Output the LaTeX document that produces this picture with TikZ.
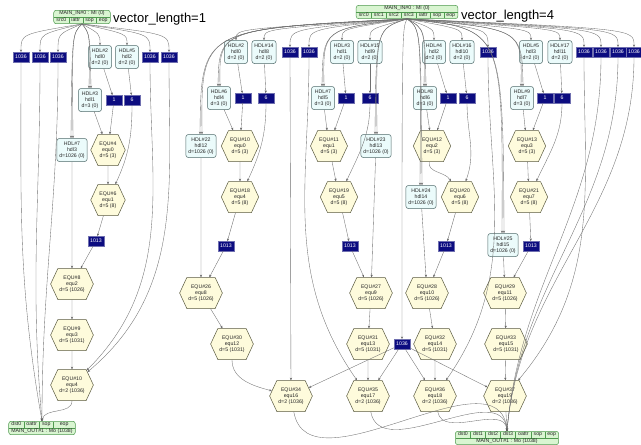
\documentclass[tikz,border=0pt]{standalone}
\usepackage{fontspec}
\setmainfont{Liberation Sans}
\usepackage{colortbl}
\usetikzlibrary{positioning,shapes.symbols,arrows.meta}
\definecolor{hdlfill}{HTML}{EBFBFB}
\definecolor{hdlline}{HTML}{4F6A6A}
\definecolor{equfill}{HTML}{FEFBDC}
\definecolor{equline}{HTML}{5A5A40}
\definecolor{cstfill}{HTML}{0C0C80}
\definecolor{cstline}{HTML}{7070B0}
\definecolor{recfill}{HTML}{D9F5D1}
\definecolor{recline}{HTML}{4F9A4F}
\definecolor{wirecol}{HTML}{707070}
\setlength{\tabcolsep}{2.4pt}
\arrayrulecolor{recline}

\begin{document}
\begin{tikzpicture}[x=1pt,y=1pt,
every node/.style={font=\fontsize{5.2}{6.2}\selectfont, text=black!85, on grid},
hdl/.style={draw=hdlline, fill=hdlfill, line width=0.5pt, rounded corners=2.5pt, align=center, inner xsep=2.5pt, inner ysep=1pt, minimum width=23pt, minimum height=23pt},
equ/.style={signal, signal to=east and west, signal pointer angle=130, draw=equline, fill=equfill, line width=0.5pt, align=center, inner xsep=1.5pt, inner ysep=0.5pt, minimum height=31pt},
cst/.style={draw=cstline, fill=cstfill, text=white, line width=0.4pt, minimum width=15.5pt, minimum height=9.5pt, inner sep=0.5pt},
rec/.style={draw=recline, fill=recfill, line width=0.5pt, rounded corners=2.5pt, inner sep=0.3pt},
title/.style={font=\fontsize{13}{15}\selectfont, text=black, anchor=west, inner sep=0pt},
wire/.style={draw=wirecol, line width=0.35pt, -{Stealth[length=2.6pt,width=2.2pt]}}]
\path[use as bounding box, fill=white] (0,0) rectangle (641,-445);

\node[rec] (lin) at (82,-17) {\begin{tabular}{c|c|c|c}\multicolumn{4}{c}{MAIN\_IN\#0 : MI (0)}\\\hline src0&iattr&sop&eop\end{tabular}};
\node[title] (lt) at (113,-19) {vector\_length=1};
\node[cst] (lc1) at (21,-57) {1036};
\node[cst, right=19pt of lc1] (lc2) {1036};
\node[cst, right=18pt of lc2] (lc3) {1036};
\node[hdl, right=42pt of lc3] (lh2) {HDL\#2\\hdl0\\d=2 (0)};
\node[hdl, right=27pt of lh2] (lh5) {HDL\#5\\hdl2\\d=2 (0)};
\node[cst, right=23pt of lh5] (lc4) {1036};
\node[cst, right=19pt of lc4] (lc5) {1036};
\node[hdl, below left=43pt and 10pt of lh2] (lh3) {HDL\#3\\hdl1\\d=3 (0)};
\node[cst, right=24pt of lh3] (lk1) {1};
\node[cst, right=18pt of lk1] (lk6) {6};
\node[hdl, below left=50pt and 18pt of lh3] (lh7) {HDL\#7\\hdl3\\d=1026 (0)};
\node[equ, right=36pt of lh7] (le4) {EQU\#4\\equ0\\d=5 (3)};
\node[equ, below=50pt of le4] (le6) {EQU\#6\\equ1\\d=5 (8)};
\node[cst, below left=41pt and 12pt of le6] (lk13) {1013};
\node[equ, below=134pt of lh7] (le8) {EQU\#8\\equ2\\d=5 (1026)};
\node[equ, below=51pt of le8] (le9) {EQU\#9\\equ3\\d=5 (1031)};
\node[equ, below=50pt of le9] (le10) {EQU\#10\\equ4\\d=2 (1036)};
\node[rec, below left=43pt and 30pt of le10] (lout) {\begin{tabular}{c|c|c|c}dst0&oattr&sop&eop\\\hline\multicolumn{4}{c}{MAIN\_OUT\#1 : Mo (1038)}\end{tabular}};

\node[rec] (rin) at (407,-12) {\begin{tabular}{c|c|c|c|c|c|c}\multicolumn{7}{c}{MAIN\_IN\#0 : MI (0)}\\\hline src0&src1&src2&src3&iattr&sop&eop\end{tabular}};
\node[title] (rt) at (461,-16) {vector\_length=4};
\node[hdl] (rh2) at (236,-52) {HDL\#2\\hdl0\\d=2 (0)};
\node[hdl, right=28pt of rh2] (rh14) {HDL\#14\\hdl8\\d=2 (0)};
\node[cst, right=26pt of rh14] (rc1) {1036};
\node[cst, right=19pt of rc1] (rc2) {1036};
\node[hdl, right=33pt of rc2] (rh3) {HDL\#3\\hdl1\\d=2 (0)};
\node[hdl, right=28pt of rh3] (rh15) {HDL\#15\\hdl9\\d=2 (0)};
\node[hdl, right=64pt of rh15] (rh4) {HDL\#4\\hdl2\\d=2 (0)};
\node[hdl, right=28pt of rh4] (rh16) {HDL\#16\\hdl10\\d=2 (0)};
\node[cst, right=26pt of rh16] (rc3) {1036};
\node[hdl, right=43pt of rc3] (rh5) {HDL\#5\\hdl3\\d=2 (0)};
\node[hdl, right=29pt of rh5] (rh17) {HDL\#17\\hdl11\\d=2 (0)};
\node[cst, right=24pt of rh17] (rc4) {1036};
\node[cst, right=17pt of rc4] (rc5) {1036};
\node[cst, right=17pt of rc5] (rc6) {1036};
\node[cst, right=16pt of rc6] (rc7) {1036};

\node[hdl, below left=46pt and 17pt of rh2] (rh6) {HDL\#6\\hdl4\\d=3 (0)};
\node[cst, right=24pt of rh6] (rk1a) {1};
\node[cst, right=23pt of rk1a] (rk6a) {6};
\node[hdl, below left=46pt and 19pt of rh3] (rh7) {HDL\#7\\hdl5\\d=3 (0)};
\node[cst, right=23pt of rh7] (rk1b) {1};
\node[cst, right=24pt of rk1b] (rk6b) {6};
\node[hdl, below left=46pt and 9pt of rh4] (rh8) {HDL\#8\\hdl6\\d=3 (0)};
\node[cst, right=23pt of rh8] (rk1c) {1};
\node[cst, right=19pt of rk1c] (rk6c) {6};
\node[hdl, below left=46pt and 9pt of rh5] (rh9) {HDL\#9\\hdl7\\d=3 (0)};
\node[cst, right=23pt of rh9] (rk1d) {1};
\node[cst, right=17pt of rk1d] (rk6d) {6};

\node[hdl, below left=48pt and 18pt of rh6] (rh22) {HDL\#22\\hdl12\\d=1026 (0)};
\node[equ, below right=48pt and 21pt of rh6] (re10) {EQU\#10\\equ0\\d=5 (3)};
\node[equ, below right=48pt and 6pt of rh7] (re11) {EQU\#11\\equ1\\d=5 (3)};
\node[hdl, right=47pt of re11] (rh23) {HDL\#23\\hdl13\\d=1026 (0)};
\node[equ, below right=48pt and 7pt of rh8] (re12) {EQU\#12\\equ2\\d=5 (3)};
\node[equ, below right=48pt and 5pt of rh9] (re13) {EQU\#13\\equ3\\d=5 (3)};

\node[equ, below=51pt of re10] (re18) {EQU\#18\\equ4\\d=5 (8)};
\node[equ, below right=51pt and 10pt of re11] (re19) {EQU\#19\\equ5\\d=5 (8)};
\node[hdl, below left=51pt and 11pt of re12] (rh24) {HDL\#24\\hdl14\\d=1026 (0)};
\node[equ, below right=51pt and 28pt of re12] (re20) {EQU\#20\\equ6\\d=5 (8)};
\node[equ, below right=51pt and 2pt of re13] (re21) {EQU\#21\\equ7\\d=5 (8)};

\node[cst, below left=49pt and 14pt of re18] (rk13a) {1013};
\node[cst, below right=49pt and 11pt of re19] (rk13b) {1013};
\node[cst, below left=49pt and 14pt of re20] (rk13c) {1013};
\node[hdl, below left=48pt and 26pt of re21] (rh25) {HDL\#25\\hdl15\\d=1026 (0)};
\node[cst, below right=49pt and 2pt of re21] (rk13d) {1013};

\node[equ, below=147pt of rh22] (re26) {EQU\#26\\equ8\\d=5 (1026)};
\node[equ, below left=147pt and 5pt of rh23] (re27) {EQU\#27\\equ9\\d=5 (1026)};
\node[equ, below right=96pt and 6pt of rh24] (re28) {EQU\#28\\equ10\\d=5 (1026)};
\node[equ, below right=48pt and 2pt of rh25] (re29) {EQU\#29\\equ11\\d=5 (1026)};

\node[equ, below right=51pt and 31pt of re26] (re30) {EQU\#30\\equ12\\d=5 (1031)};
\node[equ, below left=51pt and 3pt of re27] (re31) {EQU\#31\\equ13\\d=5 (1031)};
\node[cst, right=34pt of re31] (rc8) {1036};
\node[equ, below right=51pt and 8pt of re28] (re32) {EQU\#32\\equ14\\d=5 (1031)};
\node[equ, below right=51pt and 1pt of re29] (re33) {EQU\#33\\equ15\\d=5 (1031)};

\node[equ, below right=52pt and 59pt of re30] (re34) {EQU\#34\\equ16\\d=2 (1036)};
\node[equ, below=52pt of re31] (re35) {EQU\#35\\equ17\\d=2 (1036)};
\node[equ, below=52pt of re32] (re36) {EQU\#36\\equ18\\d=2 (1036)};
\node[equ, below left=52pt and 1pt of re33] (re37) {EQU\#37\\equ19\\d=2 (1036)};
\node[rec, below right=42pt and 2pt of re37] (rout) {\begin{tabular}{c|c|c|c|c|c|c}dst0&dst1&dst2&dst3&oattr&sop&eop\\\hline\multicolumn{7}{c}{MAIN\_OUT\#1 : Mo (1038)}\end{tabular}};

\coordinate (lfan) at ([yshift=-10pt]lin.south);
\coordinate (rfan) at ([yshift=-10pt]rin.south);
\foreach \t in {lc1,lc2,lc3,lh2,lh5,lc4,lc5}
  \draw[wire] (lin.south) .. controls (lfan -| \t.north) .. (\t.north);
\foreach \t in {lh3,lh7} {
  \draw[wire] (lin.south) .. controls (lfan -| \t.north) .. ([xshift=-1pt]\t.north);
  \draw[wire] (lin.south) .. controls (lfan -| \t.north) .. ([xshift=1pt]\t.north);
}
\foreach \t in {rh2,rh14,rc1,rc2,rh3,rh15,rh4,rh16,rc3,rh5,rh17,rc4,rc5,rc6,rc7,rc8}
  \draw[wire] (rin.south) .. controls (rfan -| \t.north) .. (\t.north);
\foreach \t in {rh6,rh7,rh8,rh9,rh22,rh23,rh24,rh25} {
  \draw[wire] (rin.south) .. controls (rfan -| \t.north) .. ([xshift=-1pt]\t.north);
  \draw[wire] (rin.south) .. controls (rfan -| \t.north) .. ([xshift=1pt]\t.north);
}

\path[wire] (lh2) edge (lk1) (lk1) edge (le4) (lh3) edge (le4)
  (lh5) edge (lk6) (lk6) edge[out=-90,in=65] (le6) (le4) edge (le6)
  (le6) edge (lk13) (lk13) edge (le8) (lh7) edge (le8)
  (le8) edge (le9) (le9) edge (le10)
  (lc4) edge[out=-90,in=45] (le10) (lc5) edge[out=-90,in=40] (le10)
  (lc1) edge[out=-90,in=100] (lout.north) (lc2) edge[out=-90,in=95] (lout.north)
  (lc3) edge[out=-90,in=90] (lout.north) (le10) edge[out=-90,in=80] (lout.north);

\path[wire] (rh2) edge (rk1a) (rk1a) edge (re10) (rh6) edge (re10)
  (rh14) edge (rk6a) (rk6a) edge[out=-90,in=65] (re18) (re10) edge (re18)
  (re18) edge (rk13a) (rk13a) edge (re26) (rh22) edge (re26)
  (re26) edge (re30) (re30) edge[out=-90,in=165] (re34);
\path[wire] (rh3) edge (rk1b) (rk1b) edge (re11) (rh7) edge (re11)
  (rh15) edge (rk6b) (rk6b) edge[out=-90,in=65] (re19) (re11) edge (re19)
  (re19) edge (rk13b) (rk13b) edge (re27) (rh23) edge (re27)
  (re27) edge (re31) (re31) edge (re35);
\path[wire] (rh4) edge (rk1c) (rk1c) edge (re12) (rh8) edge (re12)
  (rh16) edge (rk6c) (rk6c) edge[out=-90,in=70] (re20) (re12) edge[out=-100,in=120] (re20)
  (re20) edge (rk13c) (rk13c) edge (re28) (rh24) edge (re28)
  (re28) edge (re32) (re32) edge (re36);
\path[wire] (rh5) edge (rk1d) (rk1d) edge (re13) (rh9) edge (re13)
  (rh17) edge (rk6d) (rk6d) edge[out=-90,in=65] (re21) (re13) edge (re21)
  (re21) edge (rk13d) (rk13d) edge (re29) (rh25) edge (re29)
  (re29) edge (re33) (re33) edge (re37);

\path[wire] (rc1) edge (re34) (rc2) edge[out=-90,in=125] (re35)
  (rc3) edge[out=-90,in=55] (re36) (rc4) edge[out=-90,in=50] (re37)
  (rc8) edge (re34) (rc8) edge (re35) (rc8) edge (re36) (rc8) edge (re37)
  (re34) edge[out=-80,in=95] (rout.north) (re35) edge[out=-80,in=95] (rout.north)
  (re36) edge[out=-80,in=95] (rout.north) (re37) edge (rout.north)
  (rc5) edge[out=-90,in=85] (rout.north) (rc6) edge[out=-90,in=85] (rout.north)
  (rc7) edge[out=-90,in=85] (rout.north);
\end{tikzpicture}
\end{document}
